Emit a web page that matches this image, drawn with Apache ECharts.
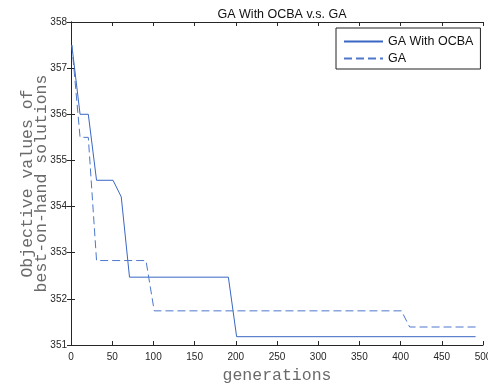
<!DOCTYPE html>
<html>
<head>
<meta charset="utf-8">
<title>GA With OCBA v.s. GA</title>
<script src="https://cdn.jsdelivr.net/npm/echarts@6/dist/echarts.min.js"></script>
<style>
  html, body { margin: 0; padding: 0; background: #fff; }
  #chart { width: 488px; height: 385px; }
</style>
</head>
<body>
<div id="chart"></div>
<script>
// data (breakpoints of the step curves)
var ocbaGen = [1, 11, 21, 31, 51, 61, 71, 191, 201, 491]
var ocbaVal = [357.5, 356.0, 356.0, 354.57, 354.57, 354.21, 352.47, 352.47, 351.18, 351.18]
var gaGen = [1, 11, 21, 31, 91, 101, 401, 411, 491]
var gaVal = [357.5, 355.5, 355.5, 352.83, 352.83, 351.74, 351.74, 351.39, 351.39]
var xTicks = [0, 500, 50]
var yTicks = [351, 358, 1]

function pairs(xs, ys) {
  return xs.map(function(x, i) { return [x, ys[i]] })
}

var blue = '#3a66c4'
var ink = '#262626'
var mono = '"Liberation Mono", "DejaVu Sans Mono", monospace'
var sans = '"Liberation Sans", Arial, sans-serif'

var chart = echarts.init(document.getElementById('chart'))

var baseX = {
  type: 'value',
  min: xTicks[0],
  max: xTicks[1],
  interval: xTicks[2],
  axisLine: { show: true, lineStyle: { color: ink, width: 1 } },
  axisTick: { show: true, inside: true, length: 4, lineStyle: { color: ink } },
  splitLine: { show: false }
}
var baseY = {
  type: 'value',
  min: yTicks[0],
  max: yTicks[1],
  interval: yTicks[2],
  axisLine: { show: true, lineStyle: { color: ink, width: 1 } },
  axisTick: { show: true, inside: true, length: 4, lineStyle: { color: ink } },
  splitLine: { show: false }
}

chart.setOption({
  animation: false,
  backgroundColor: '#fff',
  title: {
    text: 'GA With OCBA v.s. GA',
    left: 277,
    textAlign: 'center',
    top: 3,
    textStyle: { fontFamily: sans, fontSize: 12.5, fontWeight: 'normal', color: '#111' }
  },
  grid: {
    left: 71,
    right: 5,
    top: 22,
    bottom: 40,
    outerBoundsMode: 'none'
  },
  legend: {
    orient: 'vertical',
    left: 336,
    top: 28,
    padding: [7, 7, 4, 7],
    itemWidth: 39,
    itemHeight: 12,
    itemGap: 4,
    borderColor: '#222',
    borderWidth: 1,
    backgroundColor: '#fff',
    itemStyle: { opacity: 0 },
    textStyle: { fontFamily: sans, fontSize: 12.5, color: '#111', lineHeight: 13 },
    data: ['GA With OCBA', 'GA']
  },
  xAxis: [
    Object.assign({}, baseX, {
      position: 'bottom',
      name: 'generations',
      nameLocation: 'middle',
      nameGap: 22,
      nameMoveOverlap: false,
      nameTextStyle: { fontFamily: mono, fontSize: 16.5, color: '#6a6a6a' },
      axisLabel: { fontFamily: sans, fontSize: 10, color: ink, margin: 7 }
    }),
    Object.assign({}, baseX, {
      position: 'top',
      axisLabel: { show: false }
    })
  ],
  yAxis: [
    Object.assign({}, baseY, {
      position: 'left',
      name: 'Objective values of\nbest-on-hand solutions',
      nameLocation: 'middle',
      nameRotate: 90,
      nameGap: 22,
      nameMoveOverlap: false,
      nameTextStyle: { fontFamily: mono, fontSize: 16.5, color: '#6a6a6a', lineHeight: 14 },
      axisLabel: { fontFamily: sans, fontSize: 10, color: ink, margin: 4 }
    }),
    Object.assign({}, baseY, {
      position: 'right',
      axisLabel: { show: false }
    })
  ],
  series: [
    {
      name: 'GA With OCBA',
      type: 'line',
      symbol: 'none',
      data: pairs(ocbaGen, ocbaVal),
      lineStyle: { color: blue, width: 1 },
      itemStyle: { color: blue }
    },
    {
      name: 'GA',
      type: 'line',
      symbol: 'none',
      data: pairs(gaGen, gaVal),
      lineStyle: { color: '#4d78cc', width: 1, type: [8, 4] },
      itemStyle: { color: blue }
    }
  ]
})
</script>
</body>
</html>
